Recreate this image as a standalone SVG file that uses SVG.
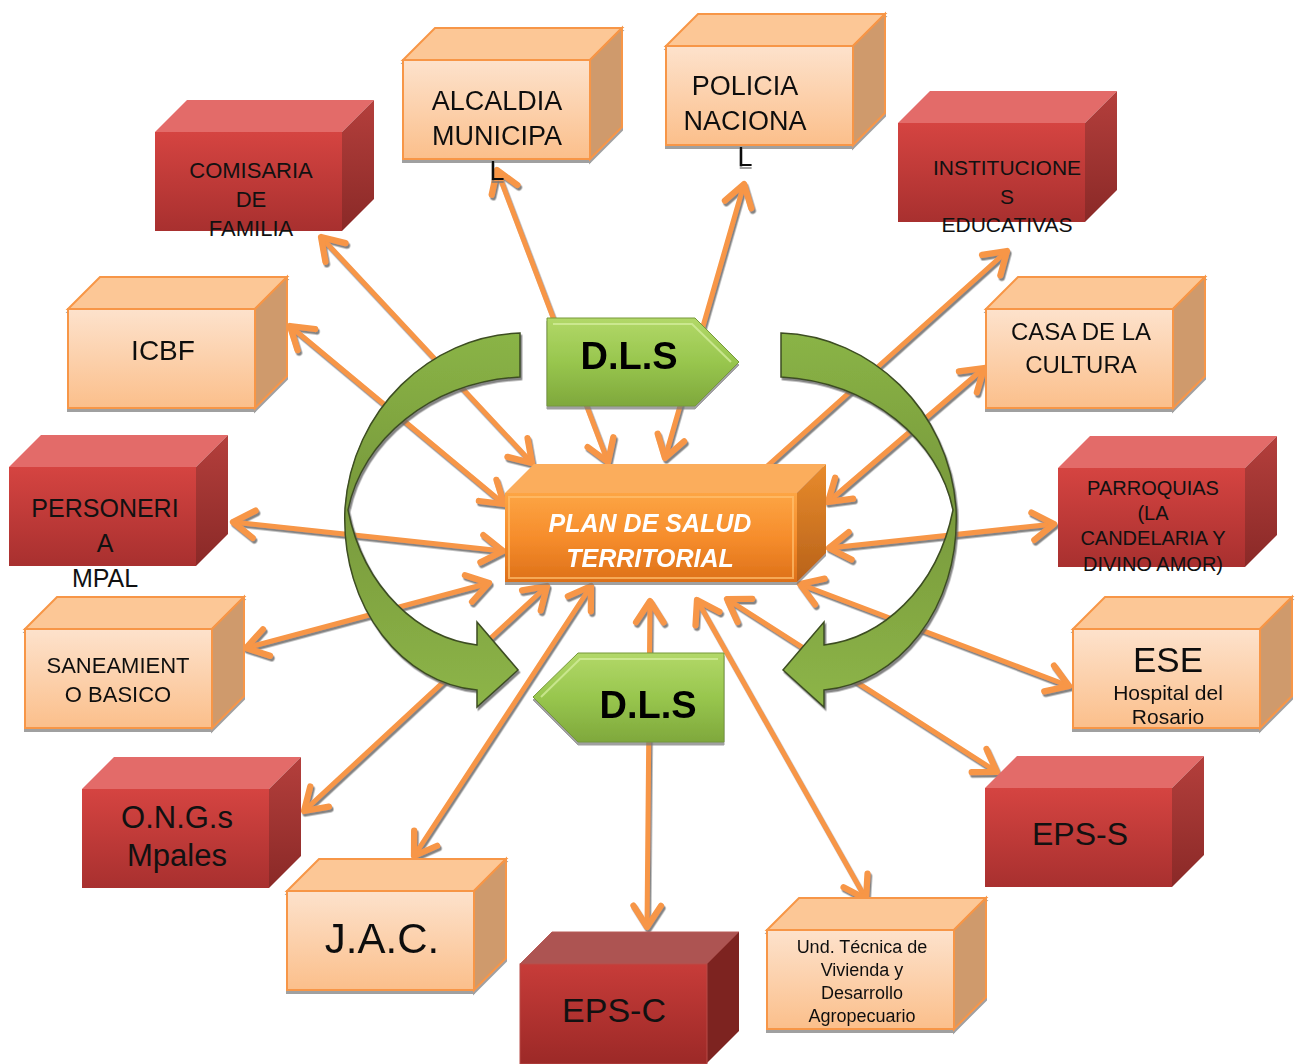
<svg xmlns="http://www.w3.org/2000/svg" xmlns:xlink="http://www.w3.org/1999/xlink" width="1297" height="1064" viewBox="0 0 1297 1064">
<defs>
<style>
.t{font-family:"Liberation Sans","DejaVu Sans",sans-serif;fill:#111;text-anchor:middle}
.conn line{stroke:#f79646;stroke-width:5;stroke-linecap:round;fill:none}
.dls{font-family:"Liberation Sans","DejaVu Sans",sans-serif;font-weight:bold;font-size:38px;fill:#000;text-anchor:middle}
.pst{font-family:"Liberation Sans","DejaVu Sans",sans-serif;font-weight:bold;font-style:italic;font-size:25px;fill:#fff;text-anchor:middle}
</style>
<linearGradient id="gLight" x1="0" y1="0" x2="0" y2="1"><stop offset="0" stop-color="#fde2cc"/><stop offset="1" stop-color="#fbbf8b"/></linearGradient>
<linearGradient id="gRed" x1="0" y1="0" x2="0" y2="1"><stop offset="0" stop-color="#d54441"/><stop offset="1" stop-color="#a8302f"/></linearGradient>
<linearGradient id="gRedR" x1="0" y1="0" x2="0" y2="1"><stop offset="0" stop-color="#b43f3c"/><stop offset="1" stop-color="#8a2927"/></linearGradient>
<linearGradient id="gDark" x1="0" y1="0" x2="0" y2="1"><stop offset="0" stop-color="#c73c39"/><stop offset="1" stop-color="#9c2927"/></linearGradient>
<linearGradient id="gPlan" x1="0" y1="0" x2="0" y2="1"><stop offset="0" stop-color="#fda544"/><stop offset="0.5" stop-color="#f68d2c"/><stop offset="1" stop-color="#dd7019"/></linearGradient>
<linearGradient id="gPlanR" x1="0" y1="0" x2="0" y2="1"><stop offset="0" stop-color="#e88b2c"/><stop offset="1" stop-color="#b8621a"/></linearGradient>
<linearGradient id="gDls" x1="0" y1="0" x2="0" y2="1"><stop offset="0" stop-color="#b2d868"/><stop offset="0.5" stop-color="#98c64e"/><stop offset="1" stop-color="#7fa83c"/></linearGradient>
<linearGradient id="gCurve" x1="0" y1="0" x2="0" y2="1"><stop offset="0" stop-color="#8ab446"/><stop offset="0.45" stop-color="#78993c"/><stop offset="1" stop-color="#8db548"/></linearGradient>
<filter id="sh" x="-10%" y="-10%" width="130%" height="130%"><feDropShadow dx="1.5" dy="2.5" stdDeviation="0.6" flood-color="#666" flood-opacity="0.8"/></filter>
<filter id="shb" x="-10%" y="-10%" width="130%" height="130%"><feDropShadow dx="0" dy="3" stdDeviation="0.7" flood-color="#777" flood-opacity="0.7"/></filter>
<marker id="ah" markerUnits="userSpaceOnUse" markerWidth="40" markerHeight="40" viewBox="-22 -16 26 32" refX="0" refY="0" orient="auto-start-reverse" overflow="visible">
<path d="M-17,-11 L0,0 L-17,11" fill="none" stroke="#f79646" stroke-width="5" stroke-linecap="round" stroke-linejoin="round"/>
</marker>
<g id="boxLight">
<polygon points="0,0 32,-32 219,-32 187,0" fill="#fcc796" stroke="#f79646" stroke-width="2"/>
<polygon points="187,0 219,-32 219,67 187,99" fill="#cf9a6c" stroke="#f79646" stroke-width="2"/>
<rect x="0" y="0" width="187" height="99" fill="url(#gLight)" stroke="#f79646" stroke-width="2"/>
</g>
<g id="boxRed">
<polygon points="0,0 32,-32 219,-32 187,0" fill="#e36b69"/>
<polygon points="187,0 219,-32 219,67 187,99" fill="url(#gRedR)"/>
<rect x="0" y="0" width="187" height="99" fill="url(#gRed)"/>
</g>
<g id="boxDark">
<polygon points="0,0 32,-32 219,-32 187,0" fill="#ad5452" stroke="#b85a57" stroke-width="1"/>
<polygon points="187,0 219,-32 219,67 187,99" fill="#7d2320"/>
<rect x="0" y="0" width="187" height="100" fill="url(#gDark)" stroke="#b84a46" stroke-width="1"/>
</g>
</defs>
<rect width="1297" height="1064" fill="#fff"/>

<g id="connectors" class="conn" filter="url(#sh)">
<line x1="608" y1="462" x2="497" y2="170" marker-start="url(#ah)" marker-end="url(#ah)"/>
<line x1="665" y1="458" x2="744" y2="184" marker-start="url(#ah)" marker-end="url(#ah)"/>
<line x1="532" y1="463" x2="321" y2="237" marker-start="url(#ah)" marker-end="url(#ah)"/>
<line x1="504" y1="504" x2="290" y2="326" marker-start="url(#ah)" marker-end="url(#ah)"/>
<line x1="765" y1="468" x2="1007" y2="251" marker-end="url(#ah)"/>
<line x1="828" y1="502" x2="984" y2="368" marker-start="url(#ah)" marker-end="url(#ah)"/>
<line x1="829" y1="548" x2="1054" y2="524" marker-start="url(#ah)" marker-end="url(#ah)"/>
<line x1="800" y1="584" x2="1069" y2="686" marker-start="url(#ah)" marker-end="url(#ah)"/>
<line x1="727" y1="599" x2="997" y2="772" marker-start="url(#ah)" marker-end="url(#ah)"/>
<line x1="697" y1="600" x2="866" y2="899" marker-start="url(#ah)" marker-end="url(#ah)"/>
<line x1="650" y1="601" x2="647" y2="927" marker-start="url(#ah)" marker-end="url(#ah)"/>
<line x1="591" y1="586" x2="414" y2="856" marker-start="url(#ah)" marker-end="url(#ah)"/>
<line x1="547" y1="586" x2="304" y2="811" marker-start="url(#ah)" marker-end="url(#ah)"/>
<line x1="489" y1="583" x2="246" y2="648" marker-start="url(#ah)" marker-end="url(#ah)"/>
<line x1="503" y1="551" x2="233" y2="522" marker-start="url(#ah)" marker-end="url(#ah)"/>
</g>

<g id="cycle-left" filter="url(#sh)">
<path d="M520,333 C430,336 352,410 345,508 C340,610 405,684 477,690 L477,707 L518,670 L477,622 L477,645 C420,638 364,590 348,510 C362,440 430,382 520,377 Z" fill="url(#gCurve)" stroke="#3d4d22" stroke-width="1.5"/>
</g>
<g id="cycle-right" filter="url(#sh)">
<path transform="translate(1301,0) scale(-1,1)" d="M520,333 C430,336 352,410 345,508 C340,610 405,684 477,690 L477,707 L518,670 L477,622 L477,645 C420,638 364,590 348,510 C362,440 430,382 520,377 Z" fill="url(#gCurve)" stroke="#3d4d22" stroke-width="1.5"/>
</g>

<g id="dls-top" filter="url(#shb)">
<path d="M547,318 H695 L739,362 L695,406 H547 Z" fill="url(#gDls)" stroke="#76983a" stroke-width="1"/>
<path d="M553,324 H692 L731,362" fill="none" stroke="#d2ec9a" stroke-width="2" opacity="0.8"/>
<text class="dls" x="629" y="369">D.L.S</text>
</g>
<g id="dls-bottom" filter="url(#shb)">
<path d="M578,653 H724 V742 H578 L533,697 Z" fill="url(#gDls)" stroke="#76983a" stroke-width="1"/>
<path d="M541,697 L580,659 H718" fill="none" stroke="#d2ec9a" stroke-width="2" opacity="0.8"/>
<text class="dls" x="648" y="718">D.L.S</text>
</g>

<g id="plan" filter="url(#shb)">
<polygon points="505,493 534,464 826,464 797,493" fill="#fbad5c"/>
<polygon points="797,493 826,464 826,553 797,582" fill="url(#gPlanR)"/>
<rect x="505" y="493" width="292" height="89" fill="url(#gPlan)"/>
<rect x="509" y="497" width="284" height="81" fill="none" stroke="#ffc070" stroke-width="2" opacity="0.7"/>
<text class="pst" x="650" y="532">PLAN DE SALUD</text>
<text class="pst" x="650" y="567">TERRITORIAL</text>
</g>

<g id="alcaldia" filter="url(#shb)">
<use href="#boxLight" x="403" y="60"/>
<text class="t" font-size="27" x="497" y="110">ALCALDIA</text>
<text class="t" font-size="27" x="497" y="145">MUNICIPA</text>
<text class="t" font-size="27" x="497" y="180">L</text>
</g>
<g id="policia" filter="url(#shb)">
<use href="#boxLight" x="666" y="46"/>
<text class="t" font-size="27" x="745" y="95">POLICIA</text>
<text class="t" font-size="27" x="745" y="130">NACIONA</text>
<text class="t" font-size="27" x="745" y="166">L</text>
</g>
<g id="comisaria">
<use href="#boxRed" x="155" y="132"/>
<text class="t" font-size="22" x="251" y="178">COMISARIA</text>
<text class="t" font-size="22" x="251" y="207">DE</text>
<text class="t" font-size="22" x="251" y="236">FAMILIA</text>
</g>
<g id="instituciones">
<use href="#boxRed" x="898" y="123"/>
<text class="t" font-size="21" x="1007" y="175">INSTITUCIONE</text>
<text class="t" font-size="21" x="1007" y="204">S</text>
<text class="t" font-size="21" x="1007" y="232">EDUCATIVAS</text>
</g>
<g id="icbf" filter="url(#shb)">
<use href="#boxLight" x="68" y="309"/>
<text class="t" font-size="28" x="163" y="360">ICBF</text>
</g>
<g id="casa-cultura" filter="url(#shb)">
<use href="#boxLight" x="986" y="309"/>
<text class="t" font-size="24" x="1081" y="340">CASA DE LA</text>
<text class="t" font-size="24" x="1081" y="373">CULTURA</text>
</g>
<g id="personeria">
<use href="#boxRed" x="9" y="467"/>
<text class="t" font-size="25" x="105" y="517">PERSONERI</text>
<text class="t" font-size="25" x="105" y="552">A</text>
<text class="t" font-size="25" x="105" y="587">MPAL</text>
</g>
<g id="parroquias">
<use href="#boxRed" x="1058" y="468"/>
<text class="t" font-size="20" x="1153" y="495">PARROQUIAS</text>
<text class="t" font-size="20" x="1153" y="520">(LA</text>
<text class="t" font-size="20" x="1153" y="545">CANDELARIA Y</text>
<text class="t" font-size="20" x="1153" y="571">DIVINO AMOR)</text>
</g>
<g id="saneamiento" filter="url(#shb)">
<use href="#boxLight" x="25" y="629"/>
<text class="t" font-size="22" x="118" y="673">SANEAMIENT</text>
<text class="t" font-size="22" x="118" y="702">O BASICO</text>
</g>
<g id="ese" filter="url(#shb)">
<use href="#boxLight" x="1073" y="629"/>
<text class="t" font-size="35" x="1168" y="672">ESE</text>
<text class="t" font-size="21" x="1168" y="700">Hospital del</text>
<text class="t" font-size="21" x="1168" y="724">Rosario</text>
</g>
<g id="ongs">
<use href="#boxRed" x="82" y="789"/>
<text class="t" font-size="31" x="177" y="828">O.N.G.s</text>
<text class="t" font-size="31" x="177" y="866">Mpales</text>
</g>
<g id="eps-s">
<use href="#boxRed" x="985" y="788"/>
<text class="t" font-size="32" x="1080" y="845">EPS-S</text>
</g>
<g id="jac" filter="url(#shb)">
<use href="#boxLight" x="287" y="891"/>
<text class="t" font-size="42" x="382" y="953">J.A.C.</text>
</g>
<g id="eps-c">
<use href="#boxDark" x="520" y="964"/>
<text class="t" font-size="34" x="614" y="1022">EPS-C</text>
</g>
<g id="und-tecnica" filter="url(#shb)">
<use href="#boxLight" x="767" y="930"/>
<text class="t" font-size="18" x="862" y="953">Und. Técnica de</text>
<text class="t" font-size="18" x="862" y="976">Vivienda y</text>
<text class="t" font-size="18" x="862" y="999">Desarrollo</text>
<text class="t" font-size="18" x="862" y="1022">Agropecuario</text>
</g>
</svg>
